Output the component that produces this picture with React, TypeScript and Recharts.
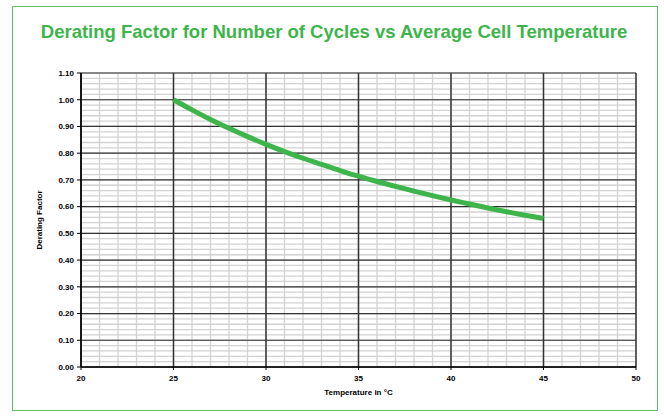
import { LineChart, Line, XAxis, YAxis, ReferenceLine } from "recharts"

// cell temperature in °C
const temps = [25, 26, 27, 28, 29, 30, 31, 32, 33, 34, 35, 36, 37, 38, 39, 40, 41, 42, 43, 44, 45]
// derating factor
const factors = [
  1.0, 0.962, 0.926, 0.893, 0.862, 0.833, 0.806, 0.781, 0.758, 0.735, 0.714,
  0.694, 0.676, 0.658, 0.641, 0.625, 0.61, 0.595, 0.581, 0.568, 0.556
]

const xTicks = [20, 25, 30, 35, 40, 45, 50]
const yTicks = [0, 0.1, 0.2, 0.3, 0.4, 0.5, 0.6, 0.7, 0.8, 0.9, 1.0, 1.1]

// minor grid: every 1 °C and every 0.02
const xMinor = Array.from({ length: 31 }, (_, i) => 20 + i)
const yMinor = Array.from({ length: 56 }, (_, i) => Math.round(i * 2) / 100)

const data = temps.map((t, i) => ({ temp: t, factor: factors[i] }))

const GREEN = "#3db54a"
const FONT = "'Liberation Sans', Arial, sans-serif"

export default function App() {
  const tickStyle = { fontSize: 8, fontWeight: "bold", fill: "#000", fontFamily: FONT }

  return (
    <div style={{ position: "absolute", left: 0, top: 0, width: 664, height: 416, background: "#fff" }}>
      <div
        style={{
          position: "absolute",
          left: 12,
          top: 6,
          width: 644,
          height: 403,
          border: "1.5px solid #5cc163",
        }}
      />
      <div
        style={{
          position: "absolute",
          left: 0,
          top: 21,
          width: 668,
          textAlign: "center",
          fontFamily: FONT,
          fontWeight: "bold",
          fontSize: 18.5,
          color: GREEN,
        }}
      >
        Derating Factor for Number of Cycles vs Average Cell Temperature
      </div>

      <div style={{ position: "absolute", left: 0, top: 0 }}>
        <LineChart width={664} height={416} data={data} margin={{ top: 73, right: 28, bottom: 19, left: 21 }}>
          <XAxis
            dataKey="temp"
            type="number"
            domain={[20, 50]}
            ticks={xTicks}
            interval={0}
            tickSize={3}
            tickMargin={5}
            height={30}
            stroke="#000"
            tick={tickStyle}
            axisLine={{ stroke: "#000", strokeWidth: 1.5 }}
            label={{
              value: "Temperature in °C",
              position: "insideBottom",
              offset: 2,
              style: { fontSize: 8, fontWeight: "bold", fill: "#000", fontFamily: FONT },
            }}
          />
          <YAxis
            type="number"
            domain={[0, 1.1]}
            ticks={yTicks}
            interval={0}
            tickSize={4}
            tickMargin={3}
            width={60}
            stroke="#000"
            tickFormatter={(v: number) => v.toFixed(2)}
            tick={tickStyle}
            axisLine={{ stroke: "#000", strokeWidth: 1.5 }}
            label={{
              value: "Derating Factor",
              angle: -90,
              position: "insideLeft",
              offset: 18,
              style: { textAnchor: "middle", fontSize: 8, fontWeight: "bold", fill: "#000", fontFamily: FONT },
            }}
          />

          {yMinor.map((v) => (
            <ReferenceLine key={"ym" + v} y={v} stroke="#d2d2d2" strokeWidth={1.3} />
          ))}
          {xMinor.map((v) => (
            <ReferenceLine key={"xm" + v} x={v} stroke="#d2d2d2" strokeWidth={1.3} />
          ))}
          {yTicks.map((v) => (
            <ReferenceLine key={"yM" + v} y={v} stroke="#333" strokeWidth={1.2} />
          ))}
          {xTicks.map((v) => (
            <ReferenceLine key={"xM" + v} x={v} stroke="#333" strokeWidth={1.5} />
          ))}

          <Line
            type="monotone"
            dataKey="factor"
            stroke={GREEN}
            strokeWidth={5}
            dot={false}
            isAnimationActive={false}
          />
        </LineChart>
      </div>
    </div>
  )
}
